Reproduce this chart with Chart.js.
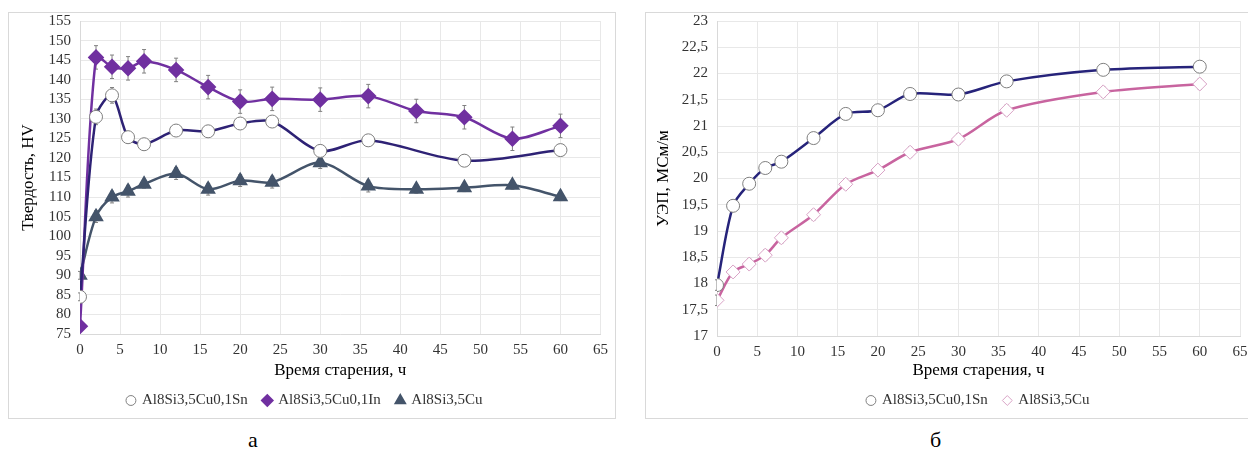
<!DOCTYPE html>
<html>
<head>
<meta charset="utf-8">
<script src="https://cdn.jsdelivr.net/npm/chart.js@4/dist/chart.umd.min.js"></script>
<style>
  body { margin: 0; background: #fff; width: 1248px; height: 457px; overflow: hidden; position: relative; font-family: "Liberation Serif", "Times New Roman", serif; }
  .box { position: absolute; border: 1px solid #d9d9d9; box-sizing: border-box; }
  #boxA { left: 8px; top: 12px; width: 608px; height: 407px; }
  #boxB { left: 645px; top: 12px; width: 610px; height: 407px; }
  .wrap { position: absolute; }
  #wrapA { left: 8px; top: 3px; width: 607px; height: 415px; }
  #wrapB { left: 645px; top: 3px; width: 651px; height: 415px; }
  .cap { position: absolute; top: 427px; font-size: 22px; color: #000; }
</style>
</head>
<body>
<div class="box" id="boxA"></div>
<div class="box" id="boxB"></div>
<div class="wrap" id="wrapA"><canvas id="chartA"></canvas></div>
<div class="wrap" id="wrapB"><canvas id="chartB"></canvas></div>
<div class="cap" style="left:248px">а</div>
<div class="cap" style="left:930px">б</div>
<script>
// --- chart а: hardness, HV ---
const hoursSnA = [0, 2, 4, 6, 8, 12, 16, 20, 24, 30, 36, 48, 60];
const hardSn = [84.5, 130.5, 136, 125.3, 123.5, 127, 126.8, 128.8, 129.3, 121.8, 124.5, 119.3, 122];
const hardSnErr = [1, 2, 2, 1.5, 1.5, 1.5, 1.5, 1.5, 1.5, 1.5, 1.5, 1.5, 1.5];

const hoursIn = [0, 2, 4, 6, 8, 12, 16, 20, 24, 30, 36, 42, 48, 54, 60];
const hardIn = [77, 145.7, 143.3, 142.9, 144.7, 142.5, 138.1, 134.4, 135.1, 134.9, 135.8, 132, 130.4, 124.9, 128.2];
const hardInErr = [0, 3, 3, 3, 3, 3, 3, 3, 3, 3, 3, 3, 3, 3, 3];

const hoursCu = [0, 2, 4, 6, 8, 12, 16, 20, 24, 30, 36, 42, 48, 54, 60];
const hardCu = [90, 105, 110, 111.5, 113.3, 116, 112, 114.2, 113.8, 118.8, 112.8, 112, 112.4, 113, 110.1];
const hardCuErr = [1, 1.5, 1.5, 1.5, 1, 1.5, 1.5, 1.5, 1.5, 1.5, 1.5, 1, 1, 1, 1];

// --- chart б: conductivity, MS/m ---
const hoursB = [0, 2, 4, 6, 8, 12, 16, 20, 24, 30, 36, 48, 60];
const condSn = [17.97, 19.48, 19.9, 20.2, 20.32, 20.77, 21.23, 21.3, 21.61, 21.6, 21.85, 22.07, 22.13];
const condCu = [17.68, 18.22, 18.37, 18.54, 18.87, 19.31, 19.89, 20.16, 20.5, 20.75, 21.3, 21.65, 21.8];
const condSnErr = [0.1, 0.1, 0.1, 0.1, 0.1, 0.1, 0.1, 0.1, 0.1, 0.1, 0.1, 0.1, 0.1];
const condCuErr = [0.1, 0.1, 0.1, 0.1, 0.1, 0.1, 0.1, 0.1, 0.1, 0.1, 0.1, 0.1, 0.1];

const serif = '"Liberation Serif", "Times New Roman", serif';
const gridColor = '#e8e8e8';

function pts(xs, ys) {
    return xs.map((x, i) => ({ x: x, y: ys[i] }));
}

// vertical error bars drawn through the chart scales
const errorBars = {
    id: 'errorBars',
    beforeDatasetsDraw(chart) {
        const ctx = chart.ctx;
        const yScale = chart.scales.y;
        ctx.save();
        ctx.strokeStyle = '#808080';
        ctx.lineWidth = 1;
        chart.data.datasets.forEach((ds, di) => {
            if (!ds.errors) return;
            const meta = chart.getDatasetMeta(di);
            meta.data.forEach((pt, i) => {
                const e = ds.errors[i];
                if (!e) return;
                const v = ds.data[i].y;
                const y1 = yScale.getPixelForValue(v + e);
                const y2 = yScale.getPixelForValue(v - e);
                ctx.beginPath();
                ctx.moveTo(pt.x, y1); ctx.lineTo(pt.x, y2);
                ctx.moveTo(pt.x - 2, y1); ctx.lineTo(pt.x + 2, y1);
                ctx.moveTo(pt.x - 2, y2); ctx.lineTo(pt.x + 2, y2);
                ctx.stroke();
            });
        });
        ctx.restore();
    }
};

function makeOptions(cfg) {
    return {
        responsive: true,
        maintainAspectRatio: false,
        animation: false,
        layout: { padding: { top: cfg.padTop, right: cfg.padRight, left: 0, bottom: 0 } },
        plugins: {
            legend: {
                position: 'bottom',
                fullSize: cfg.legendFull,
                labels: {
                    usePointStyle: true,
                    boxWidth: 7,
                    boxHeight: 7,
                    padding: 16,
                    color: '#333',
                    font: { family: serif, size: 15 }
                }
            },
            tooltip: { enabled: false }
        },
        scales: {
            x: {
                type: 'linear',
                min: 0, max: 65,
                ticks: { stepSize: 5, autoSkip: false, color: '#333', padding: 7, font: { family: serif, size: 15 } },
                grid: { color: gridColor, drawTicks: false },
                border: { color: '#d9d9d9' },
                title: { display: true, text: 'Время старения, ч', color: '#000', font: { family: serif, size: 17 }, padding: { top: 0, bottom: -4 } },
                afterFit(scale) { scale.height = cfg.xHeight; }
            },
            y: {
                min: cfg.yMin, max: cfg.yMax,
                ticks: {
                    stepSize: cfg.yStep, autoSkip: false, color: '#333', padding: 9, font: { family: serif, size: 15 },
                    callback: v => cfg.comma ? String(v).replace('.', ',') : v
                },
                grid: { color: gridColor, drawTicks: false },
                border: { color: '#d9d9d9' },
                title: { display: true, text: cfg.yTitle, color: '#000', font: { family: serif, size: 17 }, padding: { top: cfg.yTitlePad, bottom: 0 } },
                afterFit(scale) { scale.width = 72; }
            }
        }
    };
}

new Chart(document.getElementById('chartA'), {
    type: 'line',
    data: {
        datasets: [{
            label: 'Al8Si3,5Cu0,1Sn',
            data: pts(hoursSnA, hardSn),
            errors: hardSnErr,
            borderColor: '#2e2275',
            borderWidth: 2.5,
            pointStyle: 'circle',
            pointRadius: 6.5,
            pointBackgroundColor: '#fff',
            pointBorderColor: '#7f7f7f',
            pointBorderWidth: 1,
            tension: 0.3
        }, {
            label: 'Al8Si3,5Cu0,1In',
            data: pts(hoursIn, hardIn),
            errors: hardInErr,
            borderColor: '#7030a0',
            borderWidth: 2.5,
            pointStyle: 'rectRot',
            pointRadius: 6.5,
            pointBackgroundColor: '#7030a0',
            pointBorderColor: '#7030a0',
            tension: 0.3
        }, {
            label: 'Al8Si3,5Cu',
            data: pts(hoursCu, hardCu),
            errors: hardCuErr,
            borderColor: '#44546a',
            borderWidth: 2.5,
            pointStyle: 'triangle',
            pointRadius: 6.5,
            pointBackgroundColor: '#44546a',
            pointBorderColor: '#44546a',
            tension: 0.3
        }]
    },
    options: makeOptions({ yMin: 75, yMax: 155, yStep: 5, yTitle: 'Твердость, HV', yTitlePad: 10, padTop: 7, padRight: 13, xHeight: 43, comma: false, legendFull: true }),
    plugins: [errorBars]
});

new Chart(document.getElementById('chartB'), {
    type: 'line',
    data: {
        datasets: [{
            label: 'Al8Si3,5Cu0,1Sn',
            data: pts(hoursB, condSn),
            errors: condSnErr,
            borderColor: '#26237a',
            borderWidth: 2.5,
            pointStyle: 'circle',
            pointRadius: 6.5,
            pointBackgroundColor: '#fff',
            pointBorderColor: '#7f7f7f',
            pointBorderWidth: 1,
            tension: 0.3
        }, {
            label: 'Al8Si3,5Cu',
            data: pts(hoursB, condCu),
            errors: condCuErr,
            borderColor: '#c8649f',
            borderWidth: 2.5,
            pointStyle: 'rectRot',
            pointRadius: 7,
            pointBackgroundColor: '#fff',
            pointBorderColor: '#d9a3c6',
            pointBorderWidth: 1,
            tension: 0.3
        }]
    },
    options: makeOptions({ yMin: 17, yMax: 23, yStep: 0.5, yTitle: 'УЭП, МСм/м', yTitlePad: 8, padTop: 8, padRight: 56, xHeight: 41, comma: true, legendFull: false }),
    plugins: [errorBars]
});
</script>
</body>
</html>
